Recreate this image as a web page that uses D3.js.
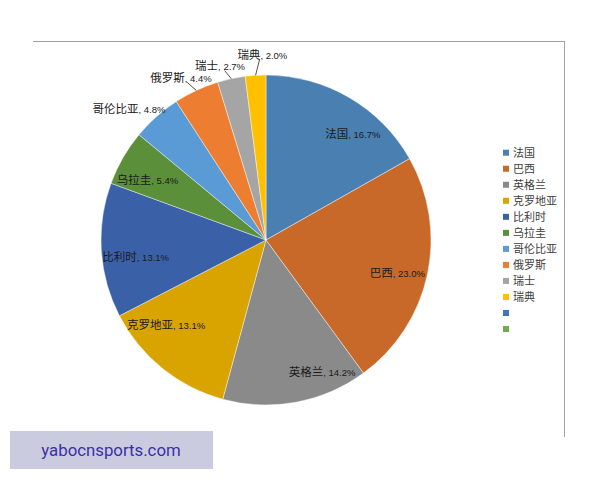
<!DOCTYPE html>
<html>
<head>
<meta charset="utf-8">
<script src="https://cdn.jsdelivr.net/npm/d3@7/dist/d3.min.js"></script>
<style>
  html, body { margin: 0; padding: 0; background: #ffffff; }
  svg { display: block; }
</style>
</head>
<body>
<svg id="chart" width="600" height="480"></svg>
<script>
// ---- data ----
const categories = ["法国", "巴西", "英格兰", "克罗地亚", "比利时", "乌拉圭", "哥伦比亚", "俄罗斯", "瑞士", "瑞典", "", ""];
const values = [16.7, 23.0, 14.2, 13.1, 13.1, 5.4, 4.8, 4.4, 2.7, 2.0, 0, 0];
const colors = ["#4a7fb2", "#c8692a", "#8a8a8a", "#d9a300", "#3a60a8", "#5b8f3a",
                "#5b9bd5", "#ed7d31", "#a5a5a5", "#ffc000", "#4472c4", "#70ad47"];
const watermark = "yabocnsports.com";

// ---- layout (label placement: angle shift in degrees, radius factor, leader line) ----
const labelLayout = [
  {da: 8.7, rf: 0.838, leader: false},
  {da: 1.1, rf: 0.818, leader: false},
  {da: -12.8, rf: 0.858, leader: false},
  {da: 11.4, rf: 0.787, leader: false},
  {da: -3.0, rf: 0.795, leader: false},
  {da: -2.2, rf: 0.811, leader: false},
  {da: -4.2, rf: 1.158, leader: false},
  {da: -2.4, rf: 1.121, leader: true},
  {da: -2.5, rf: 1.102, leader: true},
  {da: 2.5, rf: 1.135, leader: true}
];

const svg = d3.select("#chart");
const cx = 266, cy = 240, R = 165;

// chart frame (top + right border)
svg.append("line").attr("x1", 33).attr("x2", 565).attr("y1", 41.5).attr("y2", 41.5)
  .attr("stroke", "#a0a0a0").attr("stroke-width", 1);
svg.append("line").attr("x1", 564.5).attr("x2", 564.5).attr("y1", 41).attr("y2", 437)
  .attr("stroke", "#a0a0a0").attr("stroke-width", 1);

const data = categories.map((c, i) => ({name: c, v: values[i], color: colors[i], i}));
const pie = d3.pie().sort(null).value(d => d.v);
const arcs = pie(data);
const arc = d3.arc().innerRadius(0).outerRadius(R);

const g = svg.append("g").attr("transform", `translate(${cx},${cy})`);
g.selectAll("path.slice").data(arcs.filter(a => a.data.v > 0)).enter().append("path")
  .attr("class", "slice")
  .attr("d", arc)
  .attr("fill", d => d.data.color)
  .attr("stroke", "#ffffff").attr("stroke-opacity", 0.6).attr("stroke-width", 0.7);

// labels
const lg = g.append("g");
arcs.forEach((a, i) => {
  if (a.data.v <= 0 || !labelLayout[i]) return;
  const L = labelLayout[i];
  const mid = (a.startAngle + a.endAngle) / 2;
  const ang = mid + L.da * Math.PI / 180;
  const r = R * L.rf;
  const x = Math.sin(ang) * r, y = -Math.cos(ang) * r;
  if (L.leader) {
    const ex = Math.sin(mid) * R, ey = -Math.cos(mid) * R;
    const sx = x + 0.4 * (ex - x), sy = y + 6.5;
    lg.append("line").attr("x1", sx).attr("y1", sy).attr("x2", ex).attr("y2", ey)
      .attr("stroke", "#404040").attr("stroke-width", 0.9);
  }
  const t = lg.append("text").attr("x", x).attr("y", y).attr("dy", "0.36em")
    .attr("text-anchor", "middle").attr("fill", "#1a1a1a");
  t.append("tspan").attr("font-family", "'Noto Sans CJK SC', sans-serif").attr("font-size", "11.5px")
    .text(a.data.name);
  t.append("tspan").attr("font-family", "'Liberation Sans', Arial, sans-serif").attr("font-size", "9.5px")
    .text(", " + d3.format(".1f")(a.data.v) + "%");
});

// legend
const legend = svg.append("g").attr("transform", "translate(503,152.7)");
data.forEach((d, i) => {
  const row = legend.append("g").attr("transform", `translate(0,${i * 16.03})`);
  row.append("rect").attr("x", 0).attr("y", -3).attr("width", 6).attr("height", 6).attr("fill", d.color);
  row.append("text").attr("x", 10).attr("y", 0).attr("dy", "0.36em")
    .attr("font-family", "'Noto Sans CJK SC', sans-serif").attr("font-size", "11px")
    .attr("fill", "#404040").text(d.name);
});

// watermark box
svg.append("rect").attr("x", 10).attr("y", 431).attr("width", 203).attr("height", 38).attr("fill", "#cbcbe0");
svg.append("text").attr("x", 111).attr("y", 450).attr("dy", "0.35em").attr("text-anchor", "middle")
  .attr("font-family", "Roboto, sans-serif").attr("font-size", "16.8px").attr("fill", "#3a2fa8")
  .text(watermark);
</script>
</body>
</html>
